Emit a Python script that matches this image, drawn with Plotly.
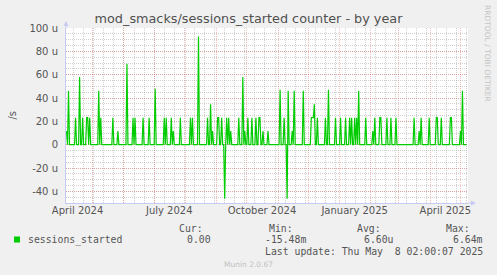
import plotly.graph_objects as go
import pandas as pd

# ---------------- data (values in micro-units / s) ----------------
start_date = "2024-04-05"
end_date = "2025-05-07"

event_dates = [
    "2024-04-05", "2024-04-07", "2024-04-14", "2024-04-18", "2024-04-21", "2024-04-25",
    "2024-04-26", "2024-04-28", "2024-05-07", "2024-05-09", "2024-05-21", "2024-05-26",
    "2024-06-04", "2024-06-10", "2024-06-12", "2024-06-20", "2024-06-26", "2024-07-02",
    "2024-07-11", "2024-07-13", "2024-07-18", "2024-07-20", "2024-07-27", "2024-08-06",
    "2024-08-08", "2024-08-14", "2024-08-23", "2024-08-26", "2024-08-28", "2024-09-02",
    "2024-09-03", "2024-09-06", "2024-09-09", "2024-09-11", "2024-09-13", "2024-09-15",
    "2024-09-23", "2024-09-27", "2024-09-29", "2024-10-02", "2024-10-06", "2024-10-10",
    "2024-10-13", "2024-10-14", "2024-10-17", "2024-10-22", "2024-11-03", "2024-11-07",
    "2024-11-10", "2024-11-11", "2024-11-15", "2024-11-17", "2024-11-26", "2024-12-04",
    "2024-12-05", "2024-12-06", "2024-12-07", "2024-12-10", "2024-12-18", "2024-12-21",
    "2024-12-28", "2025-01-02", "2025-01-07", "2025-01-11", "2025-01-13", "2025-01-16",
    "2025-01-18", "2025-01-20", "2025-01-27", "2025-02-03", "2025-02-05", "2025-02-10",
    "2025-02-11", "2025-02-17", "2025-02-21", "2025-02-26", "2025-03-16", "2025-03-21",
    "2025-03-23", "2025-03-31", "2025-04-07", "2025-04-08", "2025-04-12", "2025-04-21",
    "2025-04-22", "2025-05-01", "2025-05-03",
]
event_values = [
    11.6, 46.3, 23.1, 57.9, 23.1, 23.1,
    23.1, 23.1, 46.3, 23.1, 23.1, 11.6,
    69.4, 23.1, 23.1, 23.1, 23.1, 48.0,
    23.1, 23.1, 23.1, 11.6, 23.1, 23.1,
    23.1, 92.6, 23.1, 34.7, 11.6, 23.1,
    23.1, 23.1, -46.3, 23.1, 23.1, 11.6,
    23.1, 57.9, 11.6, 23.1, 23.1, 23.1,
    23.1, 23.1, 11.6, 11.6, 47.0, 23.1,
    -46.3, 46.3, 11.6, 46.3, 46.3, 23.1,
    23.1, 23.1, 34.7, 23.1, 23.1, 47.0,
    23.1, 23.1, 23.1, 23.1, 23.1, 23.1,
    23.1, 46.3, 23.1, 11.6, 23.1, 23.1,
    23.1, 23.1, 23.1, 23.1, 23.1, 11.6,
    23.1, 23.1, 23.1, 23.1, 23.1, 23.1,
    23.1, 11.6, 46.3,
]

x_label_dates = ["2024-04-16", "2024-07-16", "2024-10-16", "2025-01-16", "2025-04-16"]
x_label_text = ["April 2024", "July 2024", "October 2024", "January 2025", "April 2025"]

y_tick_vals = [-40, -20, 0, 20, 40, 60, 80, 100]
y_tick_text = ["-40 u", "-20 u", "0", "20 u", "40 u", "60 u", "80 u", "100 u"]

series_name = "sessions_started"
legend_headers = ["Cur:", "Min:", "Avg:", "Max:"]
legend_values = ["0.00", "-15.48m", "6.60u", "6.64m"]

title_text = "mod_smacks/sessions_started counter - by year"
last_update = "Last update: Thu May\u00a0\u00a08 02:00:07 2025"

# ---------------- build series ----------------
days = pd.date_range(start_date, end_date, freq="D")
series = pd.Series(0.0, index=days)
for d, v in zip(event_dates, event_values):
    series[pd.Timestamp(d)] = v

month_starts = pd.date_range("2024-05-01", "2025-05-01", freq="MS")

# ---------------- figure ----------------
W, H = 497, 275
L, R, T, B = 66, 468, 28, 203

def px(x):
    return (x - L) / (R - L)

def py(y):
    return (B - y) / (B - T)

TXT = "#555555"
AXC = "#C6CBF3"
MGRID = "rgba(226,100,100,0.42)"
GRID = "rgba(150,150,150,0.45)"
GREEN = "#00CC00"
FONT = "DejaVu Sans"
MONO = "DejaVu Sans Mono"

x_range = ["2024-04-04 12:00", "2025-05-08 12:00"]

fig = go.Figure()
fig.add_trace(go.Scatter(
    x=series.index, y=series.values, mode="lines",
    line=dict(color=GREEN, width=1.2), showlegend=False, hoverinfo="skip",
))
# invisible trace carrying the labelled axis
fig.add_trace(go.Scatter(
    x=x_label_dates, y=[None] * len(x_label_dates), xaxis="x2", yaxis="y",
    mode="lines", showlegend=False, hoverinfo="skip",
))

fig.update_layout(
    width=W, height=H,
    margin=dict(l=L, r=W - R, t=T, b=H - B),
    paper_bgcolor="#F0F0F0", plot_bgcolor="#FFFFFF",
    font=dict(family=FONT, size=10, color=TXT),
    title=dict(text=title_text, x=0.5, xref="container", xanchor="center",
               y=1 - 19 / H, yref="container", yanchor="middle",
               font=dict(family=FONT, size=12.8, color="#505050")),
    xaxis=dict(
        type="date", range=x_range,
        tickmode="array", tickvals=list(month_starts), ticktext=[""] * len(month_starts),
        showticklabels=False, ticks="",
        showgrid=True, gridcolor=MGRID, griddash="1px,1px", gridwidth=1,
        minor=dict(dtick=10 * 86400000, tick0="2024-05-02", showgrid=True,
                   gridcolor=GRID, griddash="1px,1px", gridwidth=1),
        showline=True, linecolor=AXC, linewidth=1, zeroline=False,
    ),
    xaxis2=dict(
        type="date", range=x_range, overlaying="x", anchor="y", side="bottom",
        tickmode="array", tickvals=x_label_dates, ticktext=x_label_text,
        showgrid=False, ticks="", showline=False, zeroline=False,
        tickfont=dict(family=FONT, size=10, color=TXT),
    ),
    yaxis=dict(
        range=[-50, 100], tickmode="array", tickvals=y_tick_vals, ticktext=y_tick_text,
        showgrid=True, gridcolor=MGRID, griddash="1px,1px", gridwidth=1,
        minor=dict(dtick=5, showgrid=True, gridcolor=GRID, griddash="1px,1px", gridwidth=1),
        ticks="", ticklabelstandoff=5, zeroline=False,
        showline=True, linecolor=AXC, linewidth=1,
        tickfont=dict(family=FONT, size=10, color=TXT),
    ),
)

ann = []
def text(x, y, s, anchor="left", size=10, color=TXT, family=FONT, angle=0):
    ann.append(dict(x=px(x), y=py(y), xref="paper", yref="paper", text=s,
                    showarrow=False, xanchor=anchor, yanchor="middle",
                    textangle=angle, borderpad=0,
                    font=dict(family=family, size=size, color=color)))

text(11.5, 115, "/s", anchor="center", size=10, angle=-90)
text(488, 53, "RRDTOOL / TOBI OETIKER", anchor="center", size=7.5, color="#C4C4C4", angle=90)

header_right = [204, 293.5, 381.5, 470.5]
value_right = [211.5, 306.5, 394.5, 483.5]
for xr, s in zip(header_right, legend_headers):
    text(xr, 228.5, s, anchor="right", size=9.8, family=MONO)
text(26.5, 239.5, series_name, anchor="left", size=9.8, family=MONO)
for xr, s in zip(value_right, legend_values):
    text(xr, 239.5, s, anchor="right", size=9.8, family=MONO)
text(483.5, 251.5, last_update, anchor="right", size=9.8, family=MONO)
text(248, 264, "Munin 2.0.67", anchor="center", size=7.5, color="#C0C0C0")

# axis arrows
ann.append(dict(x=px(66), y=py(21), xref="paper", yref="paper", ax=0, ay=9,
                showarrow=True, arrowhead=2, arrowsize=1, arrowwidth=1,
                arrowcolor=AXC, text=""))
ann.append(dict(x=px(476), y=py(203), xref="paper", yref="paper", ax=-9, ay=0,
                showarrow=True, arrowhead=2, arrowsize=1, arrowwidth=1,
                arrowcolor=AXC, text=""))
fig.update_layout(annotations=ann)

# legend colour box
fig.add_shape(type="rect", xref="paper", yref="paper",
              x0=px(14), x1=px(20), y0=py(242.5), y1=py(236.5),
              fillcolor=GREEN, line=dict(width=0))

fig.write_html("out.html")
